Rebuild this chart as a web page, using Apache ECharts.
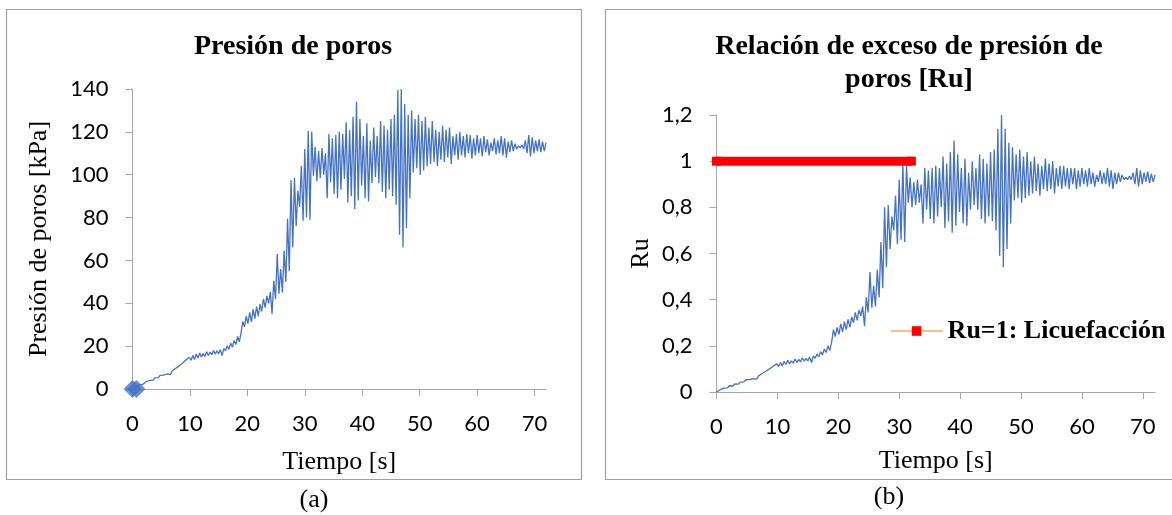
<!DOCTYPE html>
<html>
<head>
<meta charset="utf-8">
<script src="https://cdn.jsdelivr.net/npm/echarts@6/dist/echarts.min.js"></script>
<style>
  html, body { margin: 0; padding: 0; background: #fff; }
  #main { width: 1172px; height: 515px; }
</style>
</head>
<body>
<div id="main"></div>
<script>
// Sampling step of the recorded signals, seconds
const SAMPLE_STEP = 0.3;

// Pore pressure record, kPa (one value per sample, t = 0 … 72 s)
const porePressure = [
  0, 0.5, 1.2, 1.0, 2.0, 2.6, 2.2, 3.1, 3.5, 3.0, 4.0,
  4.5, 4.1, 5.2, 5.8, 5.3, 6.4, 6.9, 6.5, 7.2, 7.0,
  7.6, 6.8, 8.4, 7.9, 9.6, 8.9, 10.8, 10.2, 12.0, 11.4,
  13.5, 12.6, 14.8, 13.4, 15.6, 13.8, 16.2, 14.5, 16.8, 14.9,
  16.5, 15.2, 17.4, 15.6, 17.2, 16.0, 18.0, 16.3, 17.8, 16.5,
  18.4, 15.6, 19.0, 17.8, 20.2, 18.5, 21.4, 19.6, 22.6, 20.8,
  24.5, 22.0, 26.2, 31.5, 29.0, 34.0, 30.5, 35.8, 31.2, 37.2,
  32.8, 38.5, 34.0, 39.6, 36.2, 42.0, 38.0, 43.5, 40.0, 45.2,
  35.0, 50.5, 42.0, 63.0, 44.5, 56.0, 45.0, 64.5, 50.0, 79.5,
  55.0, 97.5, 66.0, 98.5, 76.0, 92.5, 85.0, 104.0, 78.5, 112.0,
  80.0, 120.5, 79.0, 120.0, 99.5, 113.0, 97.0, 111.0, 98.5, 112.5,
  100.0, 110.0, 89.0, 119.0, 96.5, 117.0, 91.0, 118.5, 89.0, 120.0,
  93.0, 119.0, 98.0, 124.5, 87.0, 121.0, 90.0, 127.0, 84.0, 134.0,
  88.0, 126.0, 95.0, 118.0, 89.0, 124.0, 87.5, 116.0, 96.0, 122.0,
  99.0, 118.0, 96.0, 125.0, 92.0, 123.0, 89.0, 121.0, 93.0, 126.0,
  90.0, 128.0, 86.0, 139.5, 72.0, 140.0, 66.0, 133.0, 75.0, 128.0,
  89.0, 130.0, 101.0, 126.0, 103.0, 128.0, 100.0, 125.0, 102.0, 127.0,
  104.0, 122.0, 105.0, 125.0, 106.0, 121.0, 104.0, 120.0, 107.0, 123.0,
  106.0, 121.0, 108.0, 122.0, 105.0, 118.0, 109.0, 119.0, 107.0, 120.0,
  109.0, 118.0, 108.0, 119.0, 110.0, 118.5, 107.5, 117.0, 109.0, 118.5,
  110.0, 117.0, 108.5, 118.0, 110.5, 116.5, 109.0, 115.0, 111.0, 117.0,
  109.5, 116.0, 110.0, 118.0, 109.0, 117.0, 108.0, 115.5, 110.5, 116.0,
  111.0, 114.5, 112.0, 113.5, 112.5, 114.0, 112.0, 116.0, 110.0, 118.5,
  108.5, 117.5, 110.0, 116.0, 111.0, 116.5, 110.5, 115.5, 111.0, 115.0
];

// Excess pore pressure ratio Ru (same sampling)
const ruRatio = [
  0, 0.003, 0.01, 0.008, 0.017, 0.022, 0.018, 0.027, 0.03, 0.026, 0.035,
  0.038, 0.034, 0.043, 0.048, 0.044, 0.053, 0.057, 0.054, 0.06, 0.058,
  0.063, 0.056, 0.07, 0.066, 0.08, 0.074, 0.09, 0.085, 0.1, 0.095,
  0.112, 0.104, 0.122, 0.11, 0.128, 0.113, 0.133, 0.119, 0.138, 0.122,
  0.135, 0.125, 0.143, 0.128, 0.141, 0.131, 0.148, 0.134, 0.146, 0.135,
  0.151, 0.128, 0.156, 0.146, 0.165, 0.152, 0.175, 0.161, 0.186, 0.171,
  0.2, 0.18, 0.215, 0.27, 0.24, 0.28, 0.25, 0.295, 0.26, 0.305,
  0.27, 0.315, 0.28, 0.325, 0.3, 0.345, 0.31, 0.355, 0.33, 0.37,
  0.285, 0.41, 0.345, 0.52, 0.365, 0.46, 0.37, 0.53, 0.41, 0.65,
  0.45, 0.8, 0.54, 0.81, 0.62, 0.76, 0.7, 0.85, 0.64, 0.92,
  0.66, 0.99, 0.65, 0.98, 0.82, 0.93, 0.8, 0.91, 0.81, 0.92,
  0.82, 0.9, 0.73, 0.97, 0.79, 0.96, 0.75, 0.97, 0.73, 0.98,
  0.76, 0.97, 0.8, 1.02, 0.71, 0.99, 0.74, 1.04, 0.69, 1.09,
  0.72, 1.03, 0.78, 0.97, 0.73, 1.01, 0.72, 0.95, 0.79, 1.0,
  0.81, 0.97, 0.79, 1.03, 0.75, 1.01, 0.73, 0.99, 0.76, 1.04,
  0.74, 1.05, 0.7, 1.14, 0.59, 1.2, 0.54, 1.14, 0.62, 1.08,
  0.73, 1.06, 0.83, 1.03, 0.84, 1.05, 0.82, 1.02, 0.84, 1.04,
  0.85, 1.0, 0.86, 1.02, 0.87, 0.99, 0.85, 0.98, 0.88, 1.01,
  0.87, 0.99, 0.88, 1.0, 0.86, 0.97, 0.89, 0.98, 0.88, 0.98,
  0.89, 0.97, 0.88, 0.97, 0.9, 0.97, 0.88, 0.96, 0.89, 0.97,
  0.9, 0.96, 0.89, 0.97, 0.9, 0.95, 0.89, 0.94, 0.91, 0.96,
  0.9, 0.95, 0.9, 0.97, 0.89, 0.96, 0.88, 0.95, 0.9, 0.95,
  0.91, 0.94, 0.92, 0.93, 0.92, 0.935, 0.92, 0.95, 0.9, 0.97,
  0.89, 0.96, 0.9, 0.95, 0.91, 0.955, 0.905, 0.945, 0.91, 0.94
];

// Start-of-record markers on the pressure chart
const startTime = [0, 0.7];
const startPressure = [0, 0];

// Liquefaction threshold line Ru = 1
const thresholdTime = [0, 32];
const thresholdRu = [1, 1];

// Tick labels
const timeTicks = [0, 10, 20, 30, 40, 50, 60, 70];
const pressureTicks = [0, 20, 40, 60, 80, 100, 120, 140];
const ruTicks = [0, 0.2, 0.4, 0.6, 0.8, 1, 1.2];

const SERIF = '"Liberation Serif", "Times New Roman", serif';
const SANS = 'Lato, "Open Sans", sans-serif';
const AXIS_GREY = '#a6a6a6';
const BLUE = '#4472C4';

const pairs = (xs, ys) => ys.map((v, i) => [xs[i], v]);
const sampleTime = porePressure.map((_, i) => +(i * SAMPLE_STEP).toFixed(1));

function timeAxis(gridIndex, nameGap) {
  return {
    type: 'value', gridIndex,
    min: timeTicks[0], max: 72, interval: 10,
    name: 'Tiempo [s]', nameLocation: 'middle', nameGap,
    nameTextStyle: { fontFamily: SERIF, fontSize: 26, color: '#000' },
    axisLine: { show: true, onZero: false, lineStyle: { color: AXIS_GREY, width: 1 } },
    axisTick: { show: true, inside: false, length: 7, customValues: timeTicks,
                lineStyle: { color: AXIS_GREY, width: 1 } },
    axisLabel: { customValues: timeTicks, margin: 24, fontFamily: SANS, fontSize: 22, color: '#000' },
    splitLine: { show: false }
  };
}

function valueAxis(gridIndex, ticks, name, nameGap, fmt) {
  return {
    type: 'value', gridIndex,
    min: ticks[0], max: ticks[ticks.length - 1],
    interval: ticks[1] - ticks[0],
    name, nameLocation: 'middle', nameGap, nameRotate: 90,
    nameTextStyle: { fontFamily: SERIF, fontSize: 26, color: '#000' },
    axisLine: { show: true, lineStyle: { color: AXIS_GREY, width: 1 } },
    axisTick: { show: true, inside: false, length: 7, customValues: ticks,
                lineStyle: { color: AXIS_GREY, width: 1 } },
    axisLabel: { customValues: ticks, margin: 24, fontFamily: SANS, fontSize: 22, color: '#000',
                 formatter: fmt },
    splitLine: { show: false }
  };
}

const chart = echarts.init(document.getElementById('main'), null, { renderer: 'canvas' });

chart.setOption({
  animation: false,
  backgroundColor: '#ffffff',
  graphic: [
    // panel frames
    { type: 'rect', z: -10, shape: { x: 6.5, y: 9.5, width: 575, height: 470 },
      style: { fill: '#fff', stroke: '#a0a0a0', lineWidth: 1.2 } },
    { type: 'rect', z: -10, shape: { x: 605.5, y: 9.5, width: 580, height: 470 },
      style: { fill: '#fff', stroke: '#a0a0a0', lineWidth: 1.2 } },
    // chart titles
    { type: 'text', x: 293, y: 47,
      style: { text: 'Presión de poros', fontFamily: SERIF, fontWeight: 'bold', fontSize: 28,
               fill: '#000', align: 'center', verticalAlign: 'middle',
               textAlign: 'center', textVerticalAlign: 'middle' } },
    { type: 'text', x: 909, y: 63.5,
      style: { text: 'Relación de exceso de presión de\nporos [Ru]', fontFamily: SERIF,
               fontWeight: 'bold', fontSize: 28, lineHeight: 33, fill: '#000',
               align: 'center', verticalAlign: 'middle',
               textAlign: 'center', textVerticalAlign: 'middle' } },
    // panel captions
    { type: 'text', x: 314, y: 500,
      style: { text: '(a)', fontFamily: SERIF, fontSize: 26, fill: '#000',
               align: 'center', verticalAlign: 'middle',
               textAlign: 'center', textVerticalAlign: 'middle' } },
    { type: 'text', x: 889, y: 497,
      style: { text: '(b)', fontFamily: SERIF, fontSize: 26, fill: '#000',
               align: 'center', verticalAlign: 'middle',
               textAlign: 'center', textVerticalAlign: 'middle' } }
  ],
  grid: [
    { left: 132.5, right: 626, top: 89, bottom: 126, containLabel: false },
    { left: 716.5, right: 17, top: 115, bottom: 123, containLabel: false }
  ],
  xAxis: [ timeAxis(0, 60), timeAxis(1, 56) ],
  yAxis: [
    valueAxis(0, pressureTicks, 'Presión de poros [kPa]', 80, v => String(v)),
    valueAxis(1, ruTicks, 'Ru', 62, v => String(+v.toFixed(1)).replace('.', ','))
  ],
  legend: {
    left: 885, top: 313,
    itemWidth: 52, itemHeight: 12, itemGap: 10,
    textStyle: { fontFamily: SERIF, fontWeight: 'bold', fontSize: 26, color: '#000' },
    data: [{
      name: 'Ru=1: Licuefacción',
      itemStyle: { color: '#ff0000' },
      lineStyle: { color: '#ED7D31', width: 1.2 }
    }]
  },
  series: [
    {
      type: 'line', name: 'Presión de poros', xAxisIndex: 0, yAxisIndex: 0,
      data: pairs(sampleTime, porePressure),
      showSymbol: false, symbol: 'none',
      lineStyle: { color: BLUE, width: 1.3 }, z: 3
    },
    {
      type: 'scatter', name: 'inicio', xAxisIndex: 0, yAxisIndex: 0,
      data: pairs(startTime, startPressure),
      symbol: 'diamond', symbolSize: [18, 18], clip: false,
      itemStyle: { color: BLUE }, z: 4
    },
    {
      type: 'line', name: 'Ru', xAxisIndex: 1, yAxisIndex: 1,
      data: pairs(sampleTime, ruRatio),
      showSymbol: false, symbol: 'none',
      lineStyle: { color: BLUE, width: 1.3 }, z: 3
    },
    {
      type: 'line', name: 'Ru=1: Licuefacción', xAxisIndex: 1, yAxisIndex: 1,
      data: pairs(thresholdTime, thresholdRu),
      symbol: 'rect', symbolSize: 9, showSymbol: true, clip: false,
      itemStyle: { color: '#ff0000' },
      lineStyle: { color: '#ff0000', width: 9 }, z: 4
    }
  ]
});
</script>
</body>
</html>
